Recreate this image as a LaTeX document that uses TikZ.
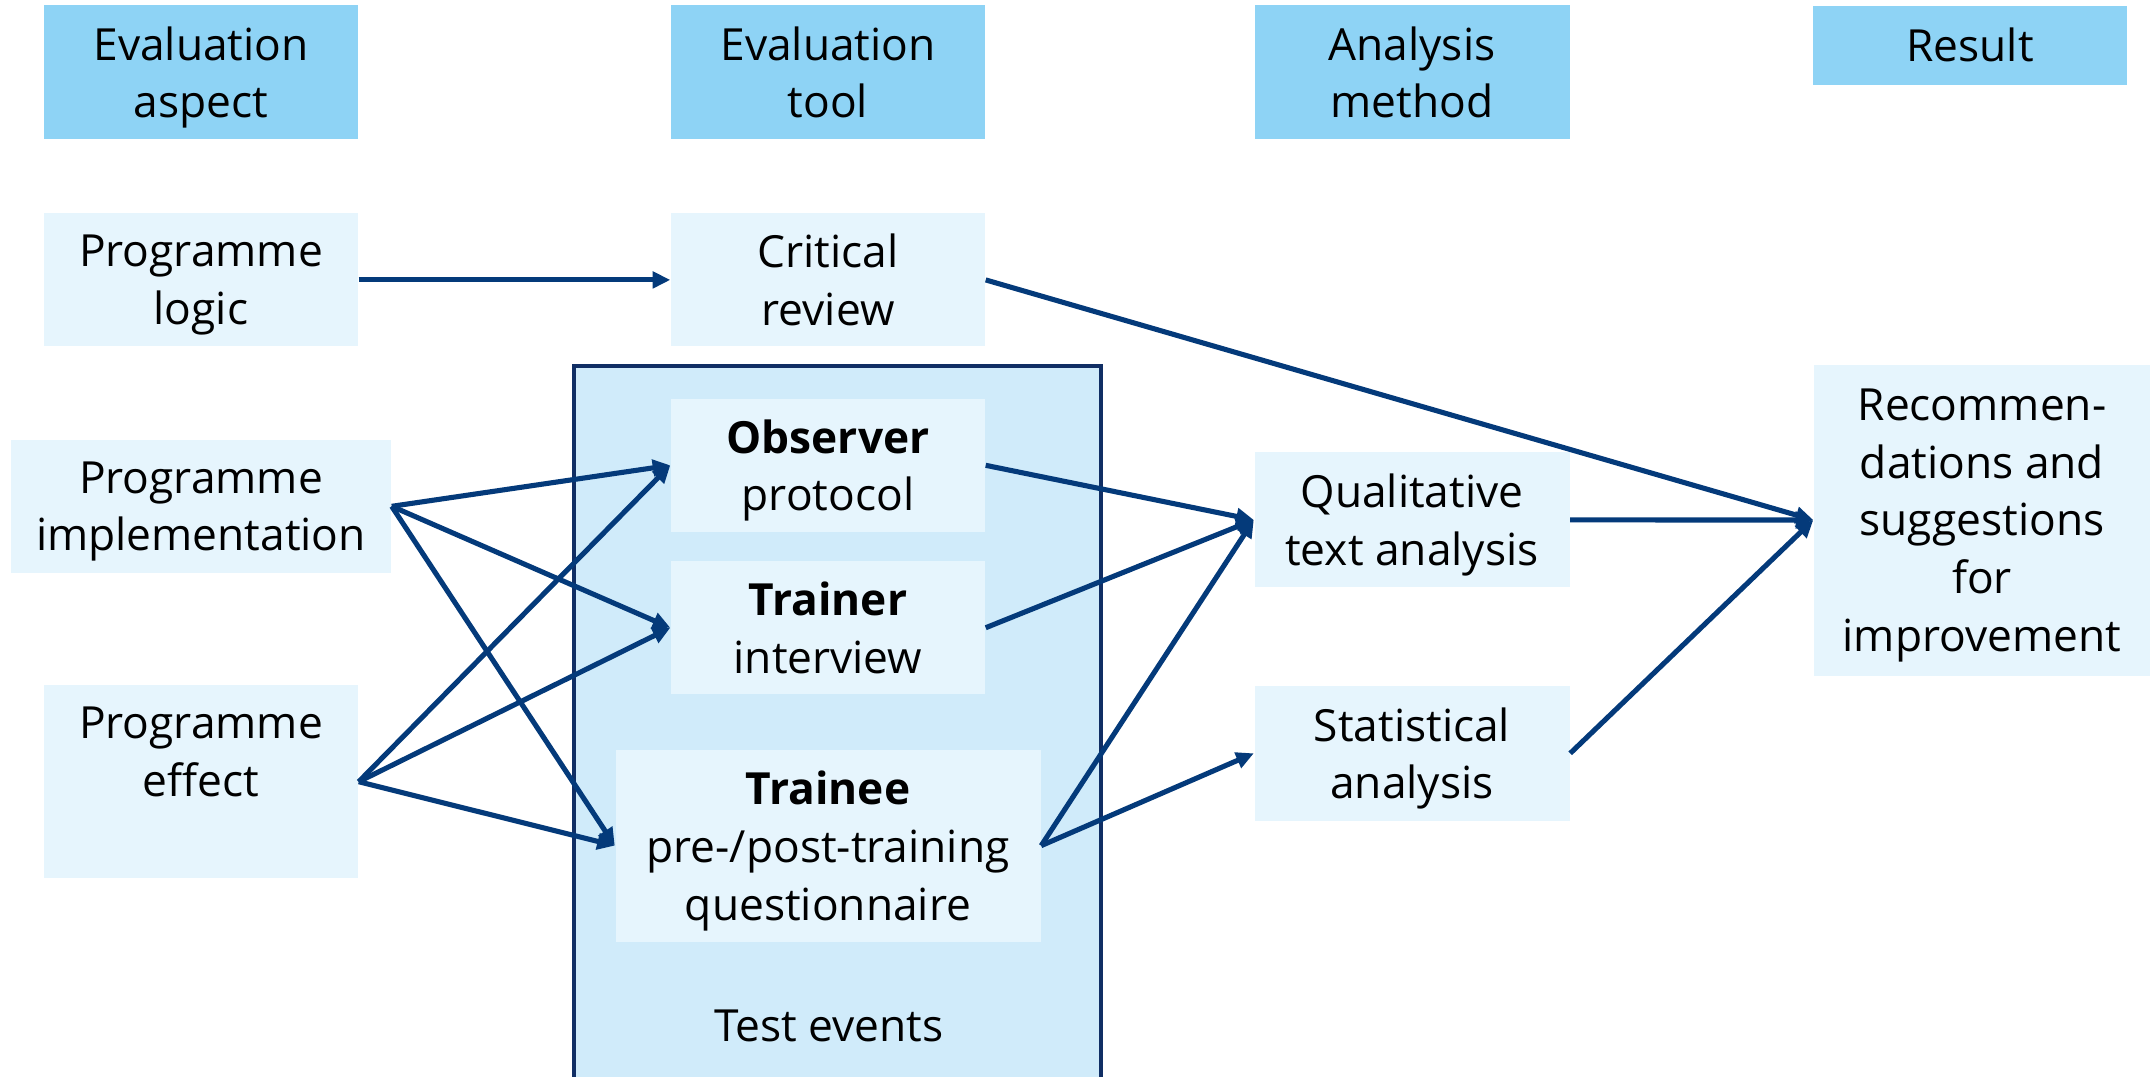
\documentclass[tikz,border=0pt]{standalone}
\usepackage{fontspec}
\setsansfont{Open Sans}
\usepackage{tikz}
\usetikzlibrary{arrows.meta, positioning}
\definecolor{headfill}{RGB}{142,211,245}
\definecolor{boxfill}{RGB}{230,245,253}
\definecolor{groupfill}{RGB}{208,235,250}
\definecolor{groupline}{RGB}{16,46,100}
\definecolor{linecol}{RGB}{4,58,122}
\tikzset{
    headblock/.style={
        rectangle,
        fill=headfill,
        text centered,
        align=center,
        inner sep=2pt,
        text depth=0pt,
        minimum width=3.14cm,
        minimum height=1.34cm,
        font=\fontsize{12.6pt}{16.4pt}\selectfont\sffamily
    },
    block/.style={
        headblock,
        fill=boxfill,
        minimum height=1.33cm
    },
    groupblock/.style={
        rectangle,
        draw=groupline,
        line width=1pt,
        fill=groupfill,
        anchor=north west,
        minimum width=5.27cm,
        minimum height=7.4cm
    },
    connection/.style={
        draw=linecol,
        line width=1.45pt,
        -{Triangle[length=5pt,width=4.6pt]}
    },
    label/.style={
        font=\fontsize{12.6pt}{16.4pt}\selectfont\sffamily
    }
}
\begin{document}
\begin{tikzpicture}
\useasboundingbox (0,0) rectangle (21.56,-10.76);
% Test events frame (cut off at the bottom)
\node[groupblock] (testevents) at (5.72,-3.64) {};
\node[label] (testlabel) at (8.29,-10.26) {Test events};

% Column heads
\node[headblock] (hAspect) at (2.01,-0.72) {Evaluation\\aspect};
\node[headblock] (hTool) at (8.28,-0.72) {Evaluation\\tool};
\node[headblock, minimum width=3.15cm] (hMethod) at (14.12,-0.72) {Analysis\\method};
\node[headblock, minimum height=0.79cm] (hResult) at (19.70,-0.45) {Result};

% Evaluation aspect
\node[block, below=0.73cm of hAspect] (logic) {Programme\\logic};
\node[block, below=0.92cm of logic, minimum width=3.80cm] (implement) {Programme\\implementation};
\node[block, below=1.11cm of implement, minimum height=1.93cm, text height=29.6pt, text depth=21.3pt] (effect) {Programme\\effect};

% Evaluation tool
\node[block, below=0.73cm of hTool] (review) {Critical\\review};
\node[block, below=0.51cm of review] (observer) {\textbf{Observer}\\protocol};
\node[block, below=0.28cm of observer] (trainer) {\textbf{Trainer}\\interview};
\node[block, below=0.54cm of trainer, minimum width=4.25cm, minimum height=1.92cm] (trainee) {\textbf{Trainee}\\pre-/post-training\\questionnaire};

% Analysis method
\node[block, below=3.12cm of hMethod, minimum width=3.15cm, minimum height=1.35cm] (qualitative) {Qualitative\\text analysis};
\node[block, below=0.97cm of qualitative, minimum width=3.15cm, minimum height=1.35cm] (statistical) {Statistical\\analysis};

% Result
\node[block, minimum width=3.36cm, minimum height=3.11cm] (recommend) at (19.82,-5.20) {Recommen-\\dations and\\suggestions\\for\\improvement};

\draw[connection] (logic.east) -- (review.west);
\foreach \t in {observer,trainer,trainee} {
    \draw[connection] (implement.east) -- (\t.west);
    \draw[connection] (effect.east) -- (\t.west);
    \draw[connection] (\t.east) -- (qualitative.west);
}
\draw[connection] (trainee.east) -- (statistical.west);
\foreach \s in {review,qualitative,statistical}
    \draw[connection] (\s.east) -- (recommend.west);
\end{tikzpicture}
\end{document}
